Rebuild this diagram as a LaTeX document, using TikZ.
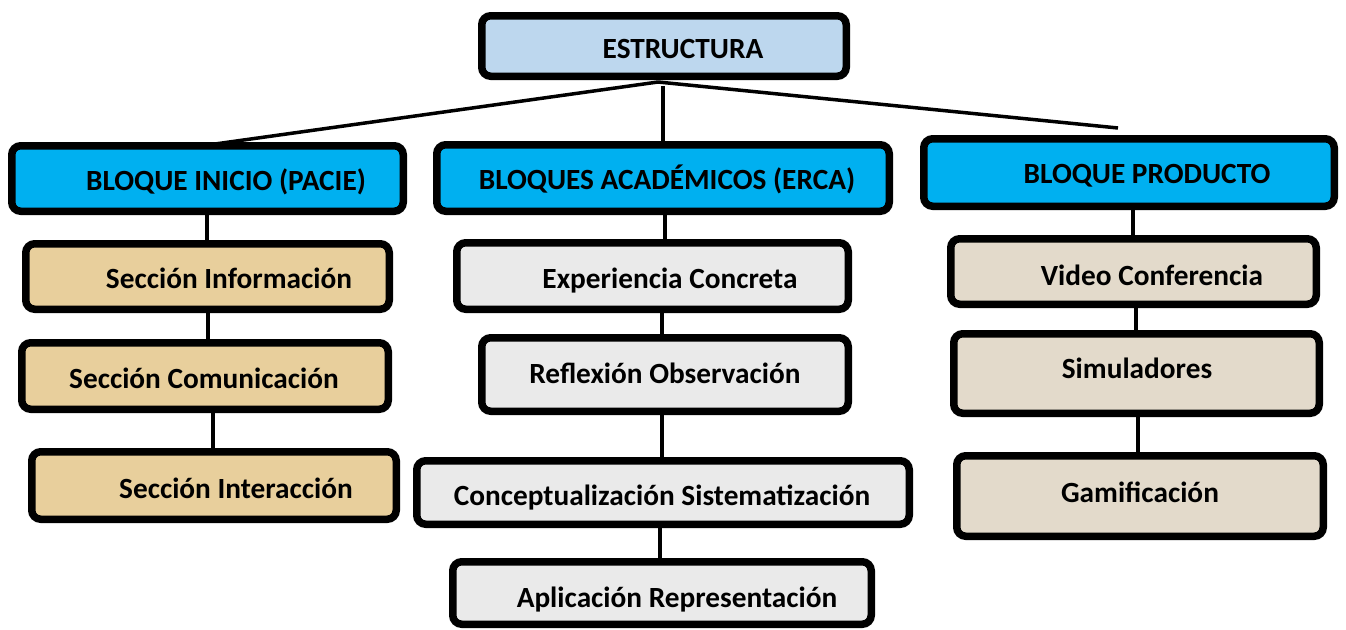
\documentclass[tikz,border=0pt]{standalone}
\usepackage{fontspec}
\setmainfont{Carlito}
\definecolor{rootblue}{HTML}{BDD7EE}
\definecolor{blockblue}{HTML}{00B0F0}
\definecolor{papyrus}{HTML}{E8CF9C}
\definecolor{marble}{HTML}{EAEAEA}
\definecolor{sand}{HTML}{E3DACB}
\tikzset{
  box/.style={draw=black, line width=7.5pt, rounded corners=9pt, inner sep=0pt},
  lbl/.style={anchor=base, inner sep=0pt, font=\fontsize{29.3}{34}\selectfont\bfseries},
  conn/.style={draw=black, line width=3.5pt}
}
\newcommand{\mybox}[7]{% name, cx, cy, w, h, fill
  \node[box, fill=#6, minimum width=#4pt-7.5pt, minimum height=#5pt-7.5pt] (#1) at (#2,#3) {};
}
\begin{document}
\begin{tikzpicture}[x=1pt,y=-1pt]
\useasboundingbox (0,0) rectangle (1346,629);
% connectors from root
\coordinate (hub) at (658,82);
\coordinate (hubv) at (663,86);
\coordinate (endl) at (215,144);
\coordinate (endr) at (1118,128);
\draw[conn] (hub) -- (endl);
\draw[conn] (hub) -- (endr);
% boxes
\mybox{root}{664}{46}{372}{68}{rootblue}{}
\mybox{b1}{207.5}{178.5}{399}{73}{blockblue}{}
\mybox{b2}{663}{178}{460}{74}{blockblue}{}
\mybox{b3}{1129}{172.5}{418}{75}{blockblue}{}
\mybox{s11}{207.5}{276.5}{371}{73}{papyrus}{}
\mybox{s12}{205}{376}{374}{74}{papyrus}{}
\mybox{s13}{214}{485.5}{372}{75}{papyrus}{}
\mybox{s21}{652.5}{276}{399}{74}{marble}{}
\mybox{s22}{665}{374.5}{374}{81}{marble}{}
\mybox{s23}{663}{492.5}{500}{71}{marble}{}
\mybox{s24}{662}{593}{426}{70}{marble}{}
\mybox{s31}{1133.5}{271.5}{373}{73}{sand}{}
\mybox{s32}{1136.5}{373.5}{373}{87}{sand}{}
\mybox{s33}{1140}{496}{374}{88}{sand}{}
% labels
\node[lbl] (troot) at (683,58) {ESTRUCTURA};
\node[lbl] (tb1) at (226,190) {BLOQUE INICIO (PACIE)};
\node[lbl] (tb2) at (667,189) {BLOQUES ACADÉMICOS (ERCA)};
\node[lbl] (tb3) at (1147,183) {BLOQUE PRODUCTO};
\node[lbl] (ts11) at (229,288) {Sección Información};
\node[lbl] (ts12) at (204,388) {Sección Comunicación};
\node[lbl] (ts13) at (236,498) {Sección Interacción};
\node[lbl] (ts21) at (670,288) {Experiencia Concreta};
\node[lbl] (ts22) at (665,383) {Reflexión Observación};
\node[lbl] (ts23) at (662,505) {Conceptualización Sistematización};
\node[lbl] (ts24) at (677,607) {Aplicación Representación};
\node[lbl] (ts31) at (1152,285) {Video Conferencia};
\node[lbl] (ts32) at (1137,378) {Simuladores};
\node[lbl] (ts33) at (1140,502) {Gamificación};
% vertical connectors
\draw[conn] (hubv) -- (hubv |- b2.north);
\draw[conn] (b1.south -| 207,0) -- (s11.north -| 207,0);
\draw[conn] (s11.south -| 208,0) -- (s12.north -| 208,0);
\draw[conn] (s12.south -| 213,0) -- (s13.north -| 213,0);
\draw[conn] (b2.south -| 665,0) -- (s21.north -| 665,0);
\draw[conn] (s21.south -| 662,0) -- (s22.north -| 662,0);
\draw[conn] (s22.south -| 662,0) -- (s23.north -| 662,0);
\draw[conn] (s23.south -| 660,0) -- (s24.north -| 660,0);
\draw[conn] (b3.south -| 1133,0) -- (s31.north -| 1133,0);
\draw[conn] (s31.south -| 1136,0) -- (s32.north -| 1136,0);
\draw[conn] (s32.south -| 1138,0) -- (s33.north -| 1138,0);
\end{tikzpicture}
\end{document}
